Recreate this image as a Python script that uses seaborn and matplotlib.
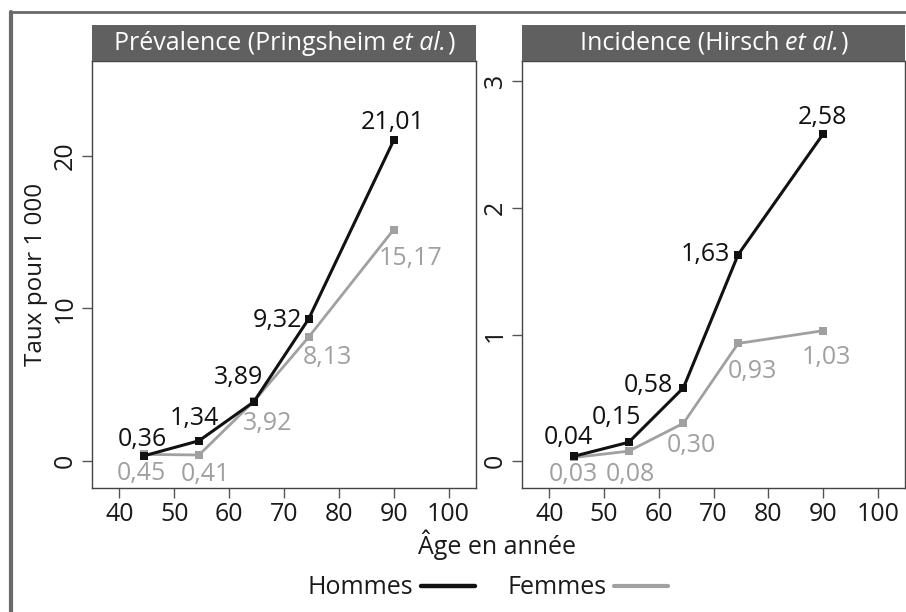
import matplotlib
matplotlib.use('Agg')
import matplotlib.pyplot as plt
import seaborn as sns
from matplotlib.lines import Line2D

# data
ages = [44.5, 54.5, 64.5, 74.5, 90]
prev_hommes = [0.36, 1.34, 3.89, 9.32, 21.01]
prev_femmes = [0.45, 0.41, 3.92, 8.13, 15.17]
inc_hommes = [0.04, 0.15, 0.58, 1.63, 2.58]
inc_femmes = [0.03, 0.08, 0.30, 0.93, 1.03]
x_ticks = [40, 50, 60, 70, 80, 90, 100]
prev_yticks = [0, 10, 20]
inc_yticks = [0, 1, 2, 3]

sns.set_theme(style='white')
plt.rcParams['font.family'] = ['Open Sans', 'DejaVu Sans']

BLACK = '#111111'
GRAY = '#a0a0a0'
TXT = '#1a1a1a'
W, H = 906, 612

fig = plt.figure(figsize=(9.06, 6.12), dpi=100)
renderer = fig.canvas.get_renderer()

def fx(px):
    return px / W

def fy(py):
    return 1 - py / H

# label offsets in pixels (dx, dy down) for the centre of the digits
off_prev_h = [(-2, -19), (-5, -25), (-15, -27), (-31.5, -1), (-1, -20)]
off_prev_f = [(-3, 17), (6, 17), (14, 20), (19, 18), (17, 26)]
off_inc_h = [(-5.5, -21.7), (-12, -27), (-35, -5), (-33, -3), (0, -19)]
off_inc_f = [(-1, 15), (2, 21), (7.7, 20), (14.7, 26), (3, 24.5)]

panels = [
    dict(left=92, right=476, ylim=(-1.77, 26.2), yticks=prev_yticks,
         h=prev_hommes, f=prev_femmes, oh=off_prev_h, of=off_prev_f,
         title=[('Prévalence (Pringsheim', 'normal'), ('et al.', 'italic'), (')', 'normal')]),
    dict(left=522, right=905, ylim=(-0.213, 3.158), yticks=inc_yticks,
         h=inc_hommes, f=inc_femmes, oh=off_inc_h, of=off_inc_f,
         title=[('Incidence (Hirsch', 'normal'), ('et al.', 'italic'), (')', 'normal')]),
]

top, bottom = 61, 488.3
for i, p in enumerate(panels):
    ax = fig.add_axes([fx(p['left']), fy(bottom), fx(p['right'] - p['left']), (bottom - top) / H])
    sns.lineplot(x=ages, y=p['f'], ax=ax, color=GRAY, lw=2.0, marker='s', markersize=6,
                 markeredgewidth=0, markerfacecolor=GRAY)
    sns.lineplot(x=ages, y=p['h'], ax=ax, color=BLACK, lw=2.2, marker='s', markersize=6,
                 markeredgewidth=0, markerfacecolor=BLACK)
    ax.set_xlim(35, 105)
    ax.set_ylim(*p['ylim'])
    ax.set_xticks(x_ticks)
    ax.set_yticks(p['yticks'])
    ax.tick_params(axis='both', length=7, width=1, color='#555555', labelsize=18,
                   labelcolor=TXT, pad=3, direction='out', bottom=True, left=True)
    for lab in ax.get_yticklabels():
        lab.set_rotation(90)
        lab.set_va('center')
    for s in ax.spines.values():
        s.set_color('#444444')
        s.set_linewidth(1.0)

    for vals, offs, col in [(p['h'], p['oh'], BLACK), (p['f'], p['of'], GRAY)]:
        for x, v, (dx, dy) in zip(ages, vals, offs):
            ax.annotate(f'{v:.2f}'.replace('.', ','), xy=(x, v),
                        xytext=(dx * 0.72, -(dy + 9) * 0.72), textcoords='offset points',
                        ha='center', va='baseline', fontsize=18, color=col)

    if i == 0:
        ax.set_ylabel('Taux pour 1 000', fontsize=17.5, color=TXT, labelpad=4)

    # title box
    tax = fig.add_axes([fx(p['left']), fy(top), fx(p['right'] - p['left']), 36 / H])
    tax.set_facecolor('#606060')
    tax.set_xticks([])
    tax.set_yticks([])
    for s in tax.spines.values():
        s.set_visible(False)
    pieces = [tax.text(0, 0.5, s, style=st, ha='left', va='center', color='white',
                       fontsize=18, transform=tax.transAxes) for s, st in p['title']]
    widths = [t.get_window_extent(renderer).width for t in pieces]
    gaps = [6, 1]
    total = sum(widths) + sum(gaps)
    box_w = p['right'] - p['left']
    xpos = (box_w - total) / 2
    for t, w, g in zip(pieces, widths, gaps + [0]):
        t.set_x(xpos / box_w)
        xpos += w + g

fig.text(fx(497), fy(545), 'Âge en année', ha='center', va='center', fontsize=18, color=TXT)

handles = [Line2D([], [], color=BLACK, lw=3.2), Line2D([], [], color=GRAY, lw=3.0)]
fig.legend(handles, ['Hommes', 'Femmes'], loc='center', bbox_to_anchor=(fx(488), fy(588)),
           ncol=2, frameon=False, markerfirst=False, fontsize=18, handlelength=2.16,
           handletextpad=0.3, columnspacing=1.3, labelcolor=TXT)

# outer frame
fig.add_artist(Line2D([fx(11), fx(11)], [fy(12), 0], color='#6a6a6a', lw=3.0))
fig.add_artist(Line2D([fx(10), 1], [fy(12), fy(12)], color='#6a6a6a', lw=2.0))

fig.savefig('out.png', dpi=100)
